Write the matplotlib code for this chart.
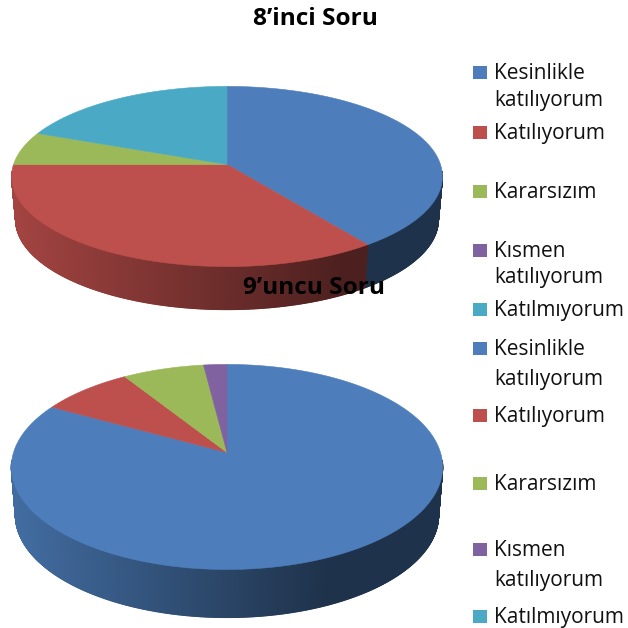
import numpy as np
import matplotlib
matplotlib.use("Agg")
import matplotlib.pyplot as plt
from matplotlib.collections import PolyCollection
from matplotlib.colors import to_rgb
from matplotlib.patches import Polygon, Rectangle

plt.rcParams['font.family'] = ['Open Sans', 'DejaVu Sans']

labels = ['Kesinlikle\nkatılıyorum', 'Katılıyorum', 'Kararsızım', 'Kısmen\nkatılıyorum', 'Katılmıyorum']
colors = ['#4D7EBB', '#BD4F4C', '#9BB958', '#8062A1', '#4AAAC5']
values_8 = [40, 35, 6, 0, 19]
values_9 = [83, 8, 7, 2, 0]
title_8 = '8’inci Soru'
title_9 = '9’uncu Soru'

fig = plt.figure(figsize=(6.28, 6.28), dpi=100)
ax = fig.add_axes([0, 0, 1, 1])
ax.set_xlim(0, 628)
ax.set_ylim(628, 0)
ax.axis('off')


def project(theta, cx, cy, rx, ry, k):
    """theta clockwise from 12 o'clock; perspective-warped circle."""
    u, v = np.sin(theta), np.cos(theta)
    w = 1 + k * v
    return cx + rx * u / w, cy - ry * v / w


def shade(x, x0, x1):
    f = np.clip((x - x0) / (x1 - x0), 0, 1)
    return 0.86 - 0.46 * f


def pie3d(values, cx, cy, rx, ry, k, depth, inset, grad_end):
    vals = np.asarray(values, float)
    edges = np.concatenate([[0], np.cumsum(vals)]) / vals.sum() * 2 * np.pi
    polys, fcs = [], []
    for i, c in enumerate(colors):
        if vals[i] == 0:
            continue
        n = max(int(vals[i] * 12), 6)
        t = np.linspace(edges[i], edges[i + 1], n + 1)
        xt, yt = project(t, cx, cy, rx, ry, k)
        xb, yb = project(t, cx, cy + depth, rx - inset, ry, k)
        for j in range(n):
            if np.cos(t[j]) > -0.08 and np.cos(t[j + 1]) > -0.08:
                continue
            polys.append([(xt[j], yt[j]), (xt[j + 1], yt[j + 1]), (xb[j + 1], yb[j + 1]), (xb[j], yb[j])])
            s = shade((xt[j] + xt[j + 1]) / 2, cx - rx, grad_end)
            fcs.append(tuple(np.array(to_rgb(c)) * s))
    ax.add_collection(PolyCollection(polys, facecolors=fcs, edgecolors=fcs, linewidths=0.8, zorder=2))
    for i, c in enumerate(colors):
        if vals[i] == 0:
            continue
        t = np.linspace(edges[i], edges[i + 1], 200)
        x, y = project(t, cx, cy, rx, ry, k)
        ax.add_patch(Polygon(np.column_stack([np.r_[cx, x], np.r_[cy, y]]), closed=True,
                             facecolor=c, edgecolor=c, linewidth=0.4, zorder=3))


def legend(rows):
    for lab, col, ys in zip(labels, colors, rows):
        ax.add_patch(Rectangle((473, ys[0] - 6.5), 13.5, 13.5, facecolor=col, edgecolor='none', zorder=5))
        for line, y in zip(lab.split('\n'), ys):
            ax.text(494, y + 1.2, line, fontsize=15, color='#111111', va='center', ha='left', zorder=6)


pie3d(values_8, 227, 164.5, 213.5, 88.5, 0.133, 43, 4, 345)
pie3d(values_9, 227, 452.5, 213.5, 100.5, 0.141, 48, 4, 325)

legend([(72, 99), (132,), (191,), (250, 276), (309,)])
legend([(348, 378), (415,), (483,), (549, 579), (616,)])

ax.text(315, 19, title_8, fontsize=17.6, fontweight='bold', ha='center', va='center', color='black', zorder=7)
ax.text(314, 288, title_9, fontsize=17.6, fontweight='bold', ha='center', va='center', color='black', zorder=7)

fig.savefig('out.png', dpi=100, facecolor='white')
